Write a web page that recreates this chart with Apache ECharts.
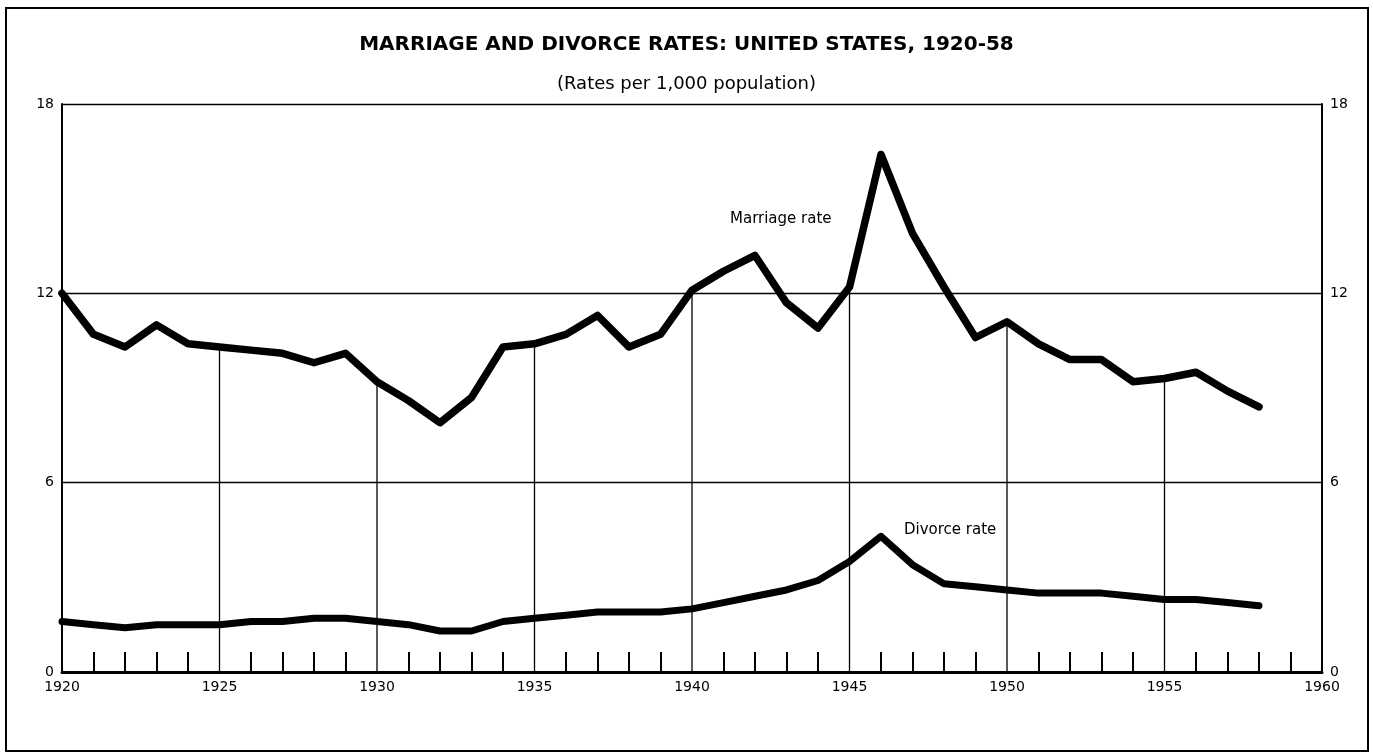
<!DOCTYPE html>
<html>
<head>
<meta charset="utf-8">
<title>Marriage and divorce rates</title>
<script src="https://cdn.jsdelivr.net/npm/echarts@6/dist/echarts.min.js"></script>
<style>
  html, body { margin: 0; padding: 0; background: #fff; }
  #main { width: 1373px; height: 753px; }
</style>
</head>
<body>
<div id="main"></div>
<script>
// data (rates per 1,000 population)
var years = [1920, 1921, 1922, 1923, 1924, 1925, 1926, 1927, 1928, 1929,
             1930, 1931, 1932, 1933, 1934, 1935, 1936, 1937, 1938, 1939,
             1940, 1941, 1942, 1943, 1944, 1945, 1946, 1947, 1948, 1949,
             1950, 1951, 1952, 1953, 1954, 1955, 1956, 1957, 1958];
var marriageRate = [12.0, 10.7, 10.3, 11.0, 10.4, 10.3, 10.2, 10.1, 9.8, 10.1,
                    9.2, 8.6, 7.9, 8.7, 10.3, 10.4, 10.7, 11.3, 10.3, 10.7,
                    12.1, 12.7, 13.2, 11.7, 10.9, 12.2, 16.4, 13.9, 12.2, 10.6,
                    11.1, 10.4, 9.9, 9.9, 9.2, 9.3, 9.5, 8.9, 8.4];
var divorceRate = [1.6, 1.5, 1.4, 1.5, 1.5, 1.5, 1.6, 1.6, 1.7, 1.7,
                   1.6, 1.5, 1.3, 1.3, 1.6, 1.7, 1.8, 1.9, 1.9, 1.9,
                   2.0, 2.2, 2.4, 2.6, 2.9, 3.5, 4.3, 3.4, 2.8, 2.7,
                   2.6, 2.5, 2.5, 2.5, 2.4, 2.3, 2.3, 2.2, 2.1];
var yTicks = [0, 6, 12, 18];

var fontFam = '"DejaVu Sans", sans-serif';

function pairs(vals) {
  var out = [];
  for (var i = 0; i < years.length; i++) out.push([years[i], vals[i]]);
  return out;
}

// vertical rules every 5 years, drawn from the axis up to the marriage curve
var rules = [];
for (var i = 0; i < years.length; i++) {
  if (years[i] % 5 === 0 && years[i] > 1920) rules.push([years[i], marriageRate[i]]);
}

var myChart = echarts.init(document.getElementById('main'));

var yAxisBase = {
  type: 'value',
  min: yTicks[0],
  max: yTicks[yTicks.length - 1],
  interval: 6,
  axisLine: { show: true, lineStyle: { color: '#000', width: 2 } },
  axisTick: { show: false },
  axisLabel: { color: '#000', fontFamily: fontFam, fontSize: 14, margin: 8 },
  splitLine: { show: true, lineStyle: { color: '#000', width: 1.3 } }
};

var option = {
  animation: false,
  backgroundColor: '#fff',
  title: [{
    text: 'MARRIAGE AND DIVORCE RATES: UNITED STATES, 1920-58',
    left: 'center',
    top: 30,
    textStyle: { color: '#000', fontFamily: fontFam, fontSize: 20, fontWeight: 'bold' }
  }, {
    text: '(Rates per 1,000 population)',
    left: 'center',
    top: 70,
    textStyle: { color: '#000', fontFamily: fontFam, fontSize: 18, fontWeight: 'normal' }
  }],
  grid: { left: 62, right: 51, top: 104, bottom: 81 },
  xAxis: {
    type: 'value',
    min: 1920,
    max: 1960,
    interval: 5,
    axisLine: { show: true, lineStyle: { color: '#000', width: 3 } },
    axisTick: { show: false, inside: true },
    minorTick: { show: true, splitNumber: 5, length: 20, lineStyle: { color: '#000', width: 2 } },
    axisLabel: { color: '#000', fontFamily: fontFam, fontSize: 14, margin: 8,
                 formatter: function (v) { return String(v); } },
    splitLine: { show: false }
  },
  yAxis: [
    Object.assign({}, yAxisBase, { position: 'left' }),
    Object.assign({}, yAxisBase, { position: 'right', splitLine: { show: false } })
  ],
  series: [{
    type: 'custom',
    silent: true,
    data: rules,
    renderItem: function (params, api) {
      var p0 = api.coord([api.value(0), 0]);
      var p1 = api.coord([api.value(0), api.value(1)]);
      return {
        type: 'line',
        shape: { x1: p0[0], y1: p0[1], x2: p1[0], y2: p1[1] },
        style: { stroke: '#000', lineWidth: 1.3 }
      };
    },
    z: 1
  }, {
    name: 'Marriage rate',
    type: 'line',
    data: pairs(marriageRate),
    symbol: 'none',
    lineStyle: { color: '#000', width: 7.5, join: 'round', cap: 'round' },
    z: 3
  }, {
    name: 'Divorce rate',
    type: 'line',
    data: pairs(divorceRate),
    symbol: 'none',
    lineStyle: { color: '#000', width: 7, join: 'round', cap: 'round' },
    z: 3
  }],
  graphic: [{
    type: 'rect',
    shape: { x: 6, y: 8, width: 1362, height: 743 },
    style: { fill: 'none', stroke: '#000', lineWidth: 2 },
    silent: true
  }, {
    type: 'text',
    left: 730,
    top: 212,
    style: { text: 'Marriage rate', fill: '#000', font: '15px ' + fontFam }
  }, {
    type: 'text',
    left: 904,
    top: 523,
    style: { text: 'Divorce rate', fill: '#000', font: '15px ' + fontFam }
  }]
};
myChart.setOption(option);
</script>
</body>
</html>
